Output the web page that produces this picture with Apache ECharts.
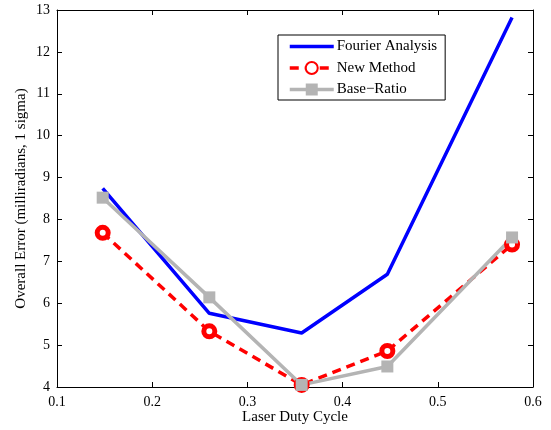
<!DOCTYPE html>
<html><head><meta charset="utf-8">
<script src="https://cdn.jsdelivr.net/npm/echarts@6/dist/echarts.min.js"></script>
<style>html,body{margin:0;padding:0;background:#fff}#c{width:551px;height:430px}</style>
</head><body><div id="c"></div>
<script>
const xValues = [0.148, 0.26, 0.357, 0.447, 0.578];
const fourier = [8.74, 5.76, 5.29, 6.69, 12.82];
const newMethod = [7.68, 5.33, 4.05, 4.86, 7.40];
const baseRatio = [8.52, 6.14, 4.05, 4.49, 7.57];
const seriesNames = ['Fourier Analysis', 'New Method', 'Base\u2212Ratio'];
const xName = 'Laser Duty Cycle';
const yName = 'Overall Error (milliradians, 1 sigma)';

const font = 'Liberation Serif';
const pair = (ys) => xValues.map((x, i) => [x, ys[i]]);
const chart = echarts.init(document.getElementById('c'), null, {renderer: 'canvas'});
const axLine = {show: true, lineStyle: {color: '#000', width: 1}};
const tick = {show: true, inside: true, length: 5, lineStyle: {color: '#000'}};
chart.setOption({
  animation: false,
  backgroundColor: '#fff',
  grid: {left: 57, right: 18, top: 10, bottom: 43, containLabel: false, outerBoundsMode: 'none'},
  legend: {
    orient: 'vertical', left: 278, top: 35,
    backgroundColor: '#fff', borderColor: '#000', borderWidth: 1,
    padding: [4, 8, 3, 10], itemGap: 6.5, itemWidth: 44, itemHeight: 15,
    textStyle: {fontFamily: font, fontSize: 15, color: '#000', padding: [0, 0, 0, -2]},
    data: [
      {name: seriesNames[0], itemStyle: {opacity: 0}, lineStyle: {width: 3.5}},
      {name: seriesNames[1], lineStyle: {width: 3.5}},
      {name: seriesNames[2], lineStyle: {width: 3.5}}
    ]
  },
  xAxis: [{
    type: 'value', min: 0.1, max: 0.6, interval: 0.1,
    name: xName, nameLocation: 'middle', nameGap: 23, nameMoveOverlap: false,
    nameTextStyle: {fontFamily: font, fontSize: 15, color: '#000'},
    axisLine: axLine, axisTick: tick, splitLine: {show: false},
    axisLabel: {fontFamily: font, fontSize: 14, color: '#000', margin: 8,
      formatter: v => Number(v).toFixed(1)}
  }, {
    type: 'value', position: 'top', min: 0.1, max: 0.6, interval: 0.1,
    axisLine: axLine, axisTick: tick, splitLine: {show: false}, axisLabel: {show: false}
  }],
  yAxis: [{
    type: 'value', min: 4, max: 13, interval: 1,
    name: yName, nameLocation: 'middle', nameGap: 28, nameMoveOverlap: false,
    nameTextStyle: {fontFamily: font, fontSize: 15, color: '#000'},
    axisLine: axLine, axisTick: tick, splitLine: {show: false},
    axisLabel: {fontFamily: font, fontSize: 14, color: '#000', margin: 7}
  }, {
    type: 'value', position: 'right', min: 4, max: 13, interval: 1,
    axisLine: axLine, axisTick: tick, splitLine: {show: false}, axisLabel: {show: false}
  }],
  series: [{
    name: seriesNames[0], type: 'line', data: pair(fourier),
    symbol: 'none', lineStyle: {color: '#0000ff', width: 3.5}, itemStyle: {color: '#0000ff'}
  }, {
    name: seriesNames[1], type: 'line', data: pair(newMethod),
    symbol: 'circle', symbolSize: 11,
    lineStyle: {color: '#ff0000', width: 3.5, type: [9, 6]},
    itemStyle: {color: '#fff', borderColor: '#ff0000', borderWidth: 5}
  }, {
    name: seriesNames[2], type: 'line', data: pair(baseRatio),
    symbol: 'rect', symbolSize: 12,
    lineStyle: {color: '#b4b4b4', width: 3.5},
    itemStyle: {color: '#b4b4b4', borderWidth: 0}
  }]
});
</script></body></html>
